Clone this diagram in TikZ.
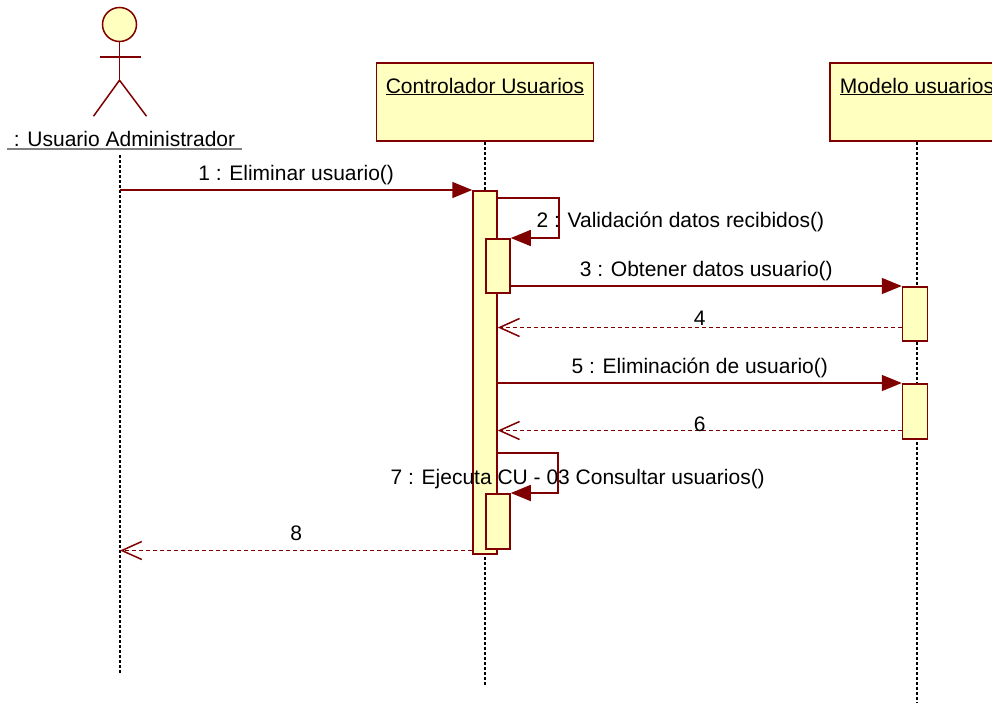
\documentclass[tikz,border=0pt]{standalone}
\usepackage{fontspec}
\setmainfont{Liberation Sans}
\usetikzlibrary{arrows.meta,positioning}
\definecolor{umlred}{RGB}{128,0,0}
\definecolor{umlfill}{RGB}{255,255,192}

\begin{document}
\begin{tikzpicture}[x=1pt, y=-1pt,
  font=\fontsize{21}{25}\selectfont,
  obj/.style={draw=umlred, fill=umlfill, line width=1.5pt, inner sep=0pt,
              minimum height=78pt, text height=30pt, text depth=48pt},
  head/.style={draw=umlred, fill=umlfill, line width=1.5pt, circle,
               minimum size=34pt, inner sep=0pt},
  limb/.style={umlred, line width=1.5pt},
  bar/.style={draw=umlred, fill=umlfill, line width=1.5pt, inner sep=0pt,
              minimum width=24pt, anchor=north},
  life/.style={line width=1.2pt, dash pattern=on 3pt off 2pt},
  msg/.style={umlred, line width=1.5pt,
              -{Triangle[length=20pt, width=16pt]}},
  ret/.style={umlred, line width=1.5pt, dash pattern=on 4pt off 3pt,
              -{Straight Barb[length=20pt, width=18pt]}},
  lbl/.style={text=black, anchor=base, yshift=10pt}
]
\useasboundingbox (0,0) rectangle (992,704);
% Actor
\node[head] (head) at (119.5,24.5) {};
\draw[limb] (head.south) -- ++(0,38) coordinate (hip);
\draw[limb] (100,57) -- (141,57);
\draw[limb] (hip) -- ++(-26,36) (hip) -- ++(27,36);
\node[anchor=base, inner xsep=7pt, inner ysep=0pt, text depth=3pt] (usr)
  at (124.5,146) {: Usuario Administrador};
\draw[gray, line width=1.5pt] (usr.south west) -- (usr.south east);
% Objects
\node[obj, minimum width=217pt] (ctrl) at (485,102)
  {\underline{Controlador Usuarios}};
\node[obj, minimum width=174pt] (mod) at (917,102)
  {\underline{Modelo usuarios}};
% Lifelines
\coordinate (usrend) at (120,675);
\coordinate (ctrlend) at (485,685);
\coordinate (modend) at (917,703);
\draw[life] ([yshift=-6pt]usr.south -| usrend) -- (usrend);
\draw[life] (ctrl) -- (ctrlend);
\draw[life] (mod) -- (modend);
% Activations
\node[bar, minimum height=363pt] (c1) at (485,190) {};
\node[bar, minimum height=54pt] (c2) at (498,238) {};
\node[bar, minimum height=55pt] (c3) at (498,493) {};
\node[bar, minimum height=54pt, minimum width=25pt] (m1) at (915,286) {};
\node[bar, minimum height=55pt, minimum width=25pt] (m2) at (915,383) {};
% Messages
\draw[msg] (usrend |- c1.north) -- (c1.north west)
  node[lbl, midway] {1 : Eliminar usuario()};
\draw[msg] ([yshift=-8pt]c1.north east) -- ++(61,0) |- (c2.north east);
\node[anchor=base west] at (533,227) {2 : Validación datos recibidos()};
\draw[msg] (c2.east |- m1.north) -- (m1.north west)
  node[lbl, midway] {3 : Obtener datos usuario()};
\draw[ret] ([yshift=14pt]m1.south west) -- ([yshift=14pt]c1.east |- m1.south)
  node[midway, anchor=base, yshift=2pt, text=black] {4};
\draw[msg] (c1.east |- m2.north) -- (m2.north west)
  node[lbl, midway] {5 : Eliminación de usuario()};
\draw[ret] ([yshift=9pt]m2.south west) -- ([yshift=9pt]c1.east |- m2.south)
  node[midway, anchor=base, yshift=-1pt, text=black] {6};
\draw[msg] ([yshift=40pt]c1.east |- c3.north) -- ++(60,0) |- (c3.north east);
\node[anchor=base west] at (387,484) {7 : Ejecuta CU - 03 Consultar usuarios()};
% Return to actor
\draw[ret] ([yshift=4pt]c1.south west) -- ([yshift=4pt]usrend |- c1.south)
  node[lbl, midway] {8};
\end{tikzpicture}
\end{document}
